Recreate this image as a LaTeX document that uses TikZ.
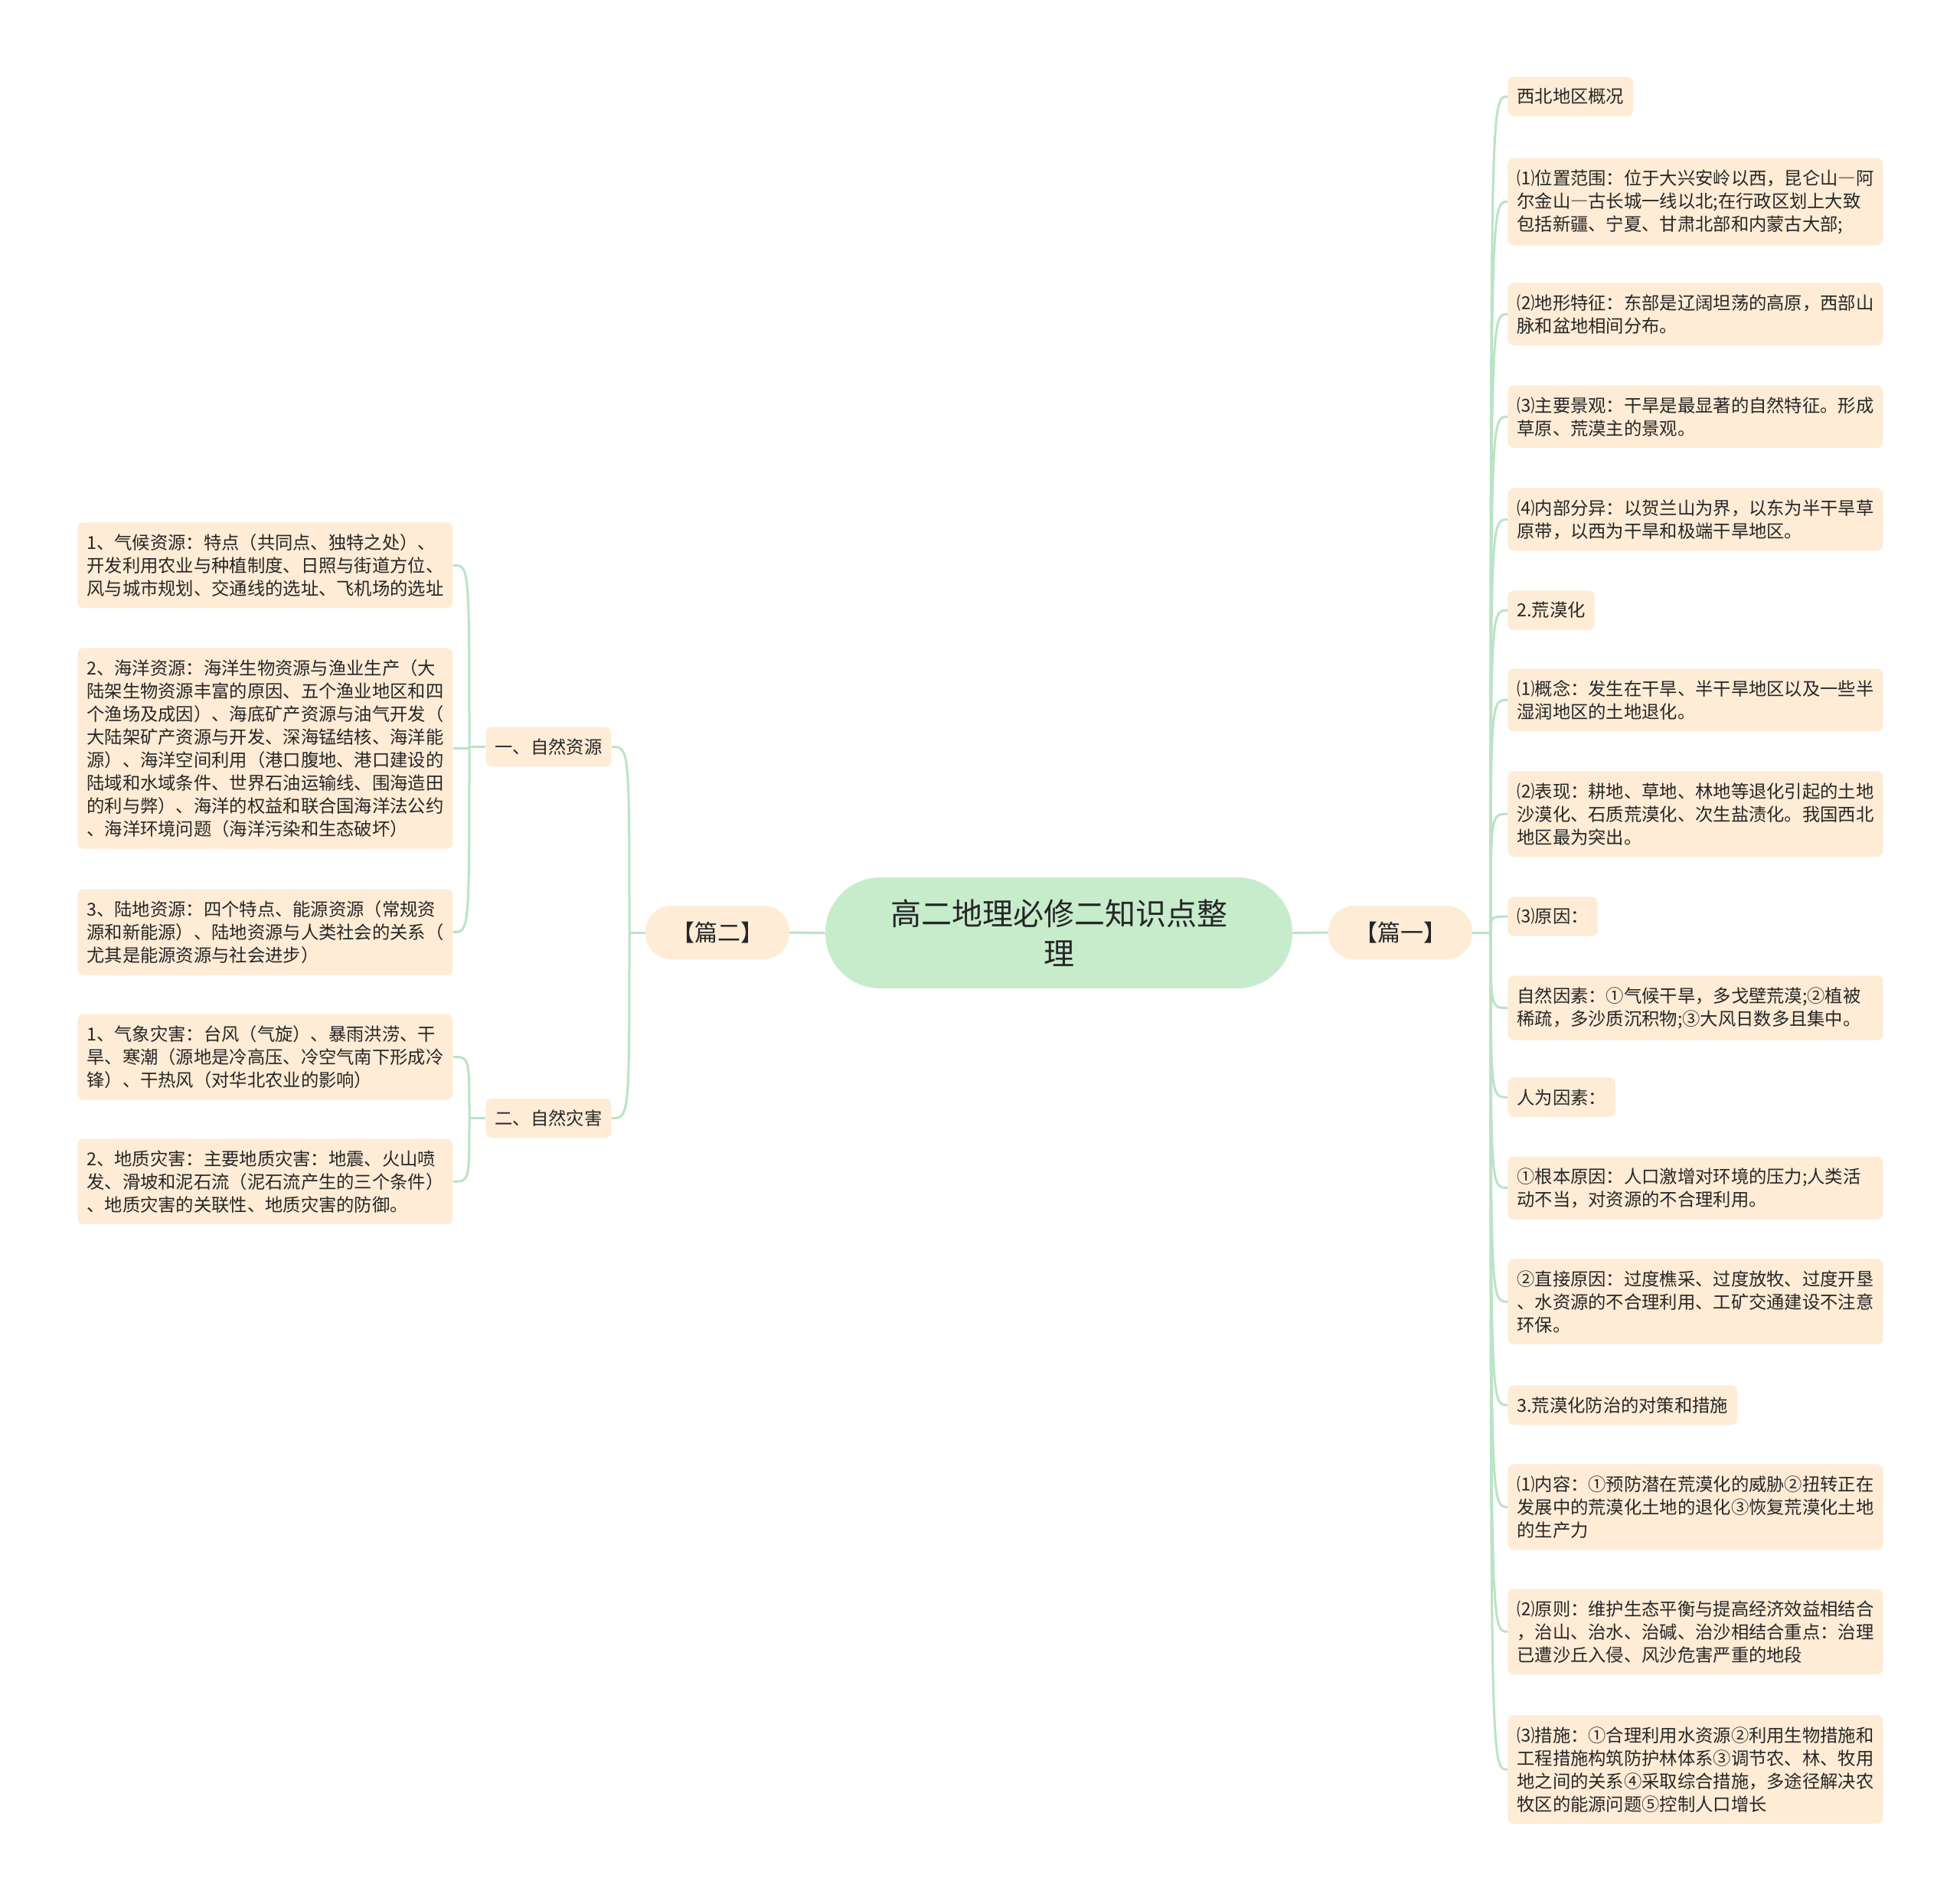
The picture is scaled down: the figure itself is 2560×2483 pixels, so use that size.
\documentclass[tikz,border=0pt]{standalone}
\usepackage{fontspec}
\setmainfont{Noto Sans CJK SC}
\definecolor{leafc}{RGB}{254,236,214}
\definecolor{rootc}{RGB}{199,236,204}
\definecolor{linec}{RGB}{186,228,196}
\definecolor{txtc}{RGB}{38,38,38}
\newcommand{\fwdash}{{\addfontfeature{RawFeature=+fwid}—}}
\tikzset{
  conn/.style={draw=linec, line width=1.5pt},
  box/.style={fill=leafc, rounded corners=4pt, inner xsep=6pt, inner ysep=7.5pt, text=txtc,
    font=\fontsize{11.65pt}{15pt}\selectfont, align=left},
  wide/.style={box, text width=233pt},
  pill/.style={fill=leafc, rounded corners=17pt, minimum width=94pt, minimum height=35pt,
    inner sep=0pt, text=txtc, font=\fontsize{15pt}{18pt}\selectfont},
  rootbox/.style={fill=rootc, rounded corners=36pt, minimum width=305pt, minimum height=72.5pt,
    inner sep=0pt, text=txtc, align=center, font=\fontsize{20pt}{26pt}\selectfont},
}
\begin{document}
\begin{tikzpicture}[x=0.5pt,y=-0.5pt]
\useasboundingbox (0,0) rectangle (2560,2483);
\fill[white] (0,0) rectangle (2560,2483);

% root and main branches
\node[rootbox] (root) at (1383,1218.5) {高二地理必修二知识点整\\理};
\node[pill] (p1) at (1829,1218) {【篇一】};
\node[pill] (p2) at (937,1218) {【篇二】};

% right side
\node[box, anchor=north west] (r1) at (1969,100) {西北地区概况};
\node[wide, anchor=north west] (r2) at (1969,206) {⑴位置范围：位于大兴安岭以西，昆仑山\fwdash 阿\\尔金山\fwdash 古长城一线以北;在行政区划上大致\\包括新疆、宁夏、甘肃北部和内蒙古大部;};
\node[wide, anchor=north west] (r3) at (1969,369) {⑵地形特征：东部是辽阔坦荡的高原，西部山\\脉和盆地相间分布。};
\node[wide, anchor=north west] (r4) at (1969,503) {⑶主要景观：干旱是最显著的自然特征。形成\\草原、荒漠主的景观。};
\node[wide, anchor=north west] (r5) at (1969,637) {⑷内部分异：以贺兰山为界，以东为半干旱草\\原带，以西为干旱和极端干旱地区。};
\node[box, anchor=north west] (r6) at (1969,771) {2.荒漠化};
\node[wide, anchor=north west] (r7) at (1969,873) {⑴概念：发生在干旱、半干旱地区以及一些半\\湿润地区的土地退化。};
\node[wide, anchor=north west] (r8) at (1969,1007) {⑵表现：耕地、草地、林地等退化引起的土地\\沙漠化、石质荒漠化、次生盐渍化。我国西北\\地区最为突出。};
\node[box, anchor=north west] (r9) at (1969,1171) {⑶原因：};
\node[wide, anchor=north west] (r10) at (1969,1274) {自然因素：①气候干旱，多戈壁荒漠;②植被\\稀疏，多沙质沉积物;③大风日数多且集中。};
\node[box, anchor=north west] (r11) at (1969,1407) {人为因素：};
\node[wide, anchor=north west] (r12) at (1969,1510) {①根本原因：人口激增对环境的压力;人类活\\动不当，对资源的不合理利用。};
\node[wide, anchor=north west] (r13) at (1969,1644) {②直接原因：过度樵采、过度放牧、过度开垦\\、水资源的不合理利用、工矿交通建设不注意\\环保。};
\node[box, anchor=north west] (r14) at (1969,1809) {3.荒漠化防治的对策和措施};
\node[wide, anchor=north west] (r15) at (1969,1912) {⑴内容：①预防潜在荒漠化的威胁②扭转正在\\发展中的荒漠化土地的退化③恢复荒漠化土地\\的生产力};
\node[wide, anchor=north west] (r16) at (1969,2075) {⑵原则：维护生态平衡与提高经济效益相结合\\，治山、治水、治碱、治沙相结合重点：治理\\已遭沙丘入侵、风沙危害严重的地段};
\node[wide, anchor=north west] (r17) at (1969,2240) {⑶措施：①合理利用水资源②利用生物措施和\\工程措施构筑防护林体系③调节农、林、牧用\\地之间的关系④采取综合措施，多途径解决农\\牧区的能源问题⑤控制人口增长};

% left side
\node[box] (n1) at (716.5,975.5) {一、自然资源};
\node[box] (n2) at (716.5,1460.5) {二、自然灾害};
\node[wide, anchor=north west] (l1) at (101,682) {1、气候资源：特点（共同点、独特之处）、\\开发利用农业与种植制度、日照与街道方位、\\风与城市规划、交通线的选址、飞机场的选址};
\node[wide, anchor=north west] (l2) at (101,846) {2、海洋资源：海洋生物资源与渔业生产（大\\陆架生物资源丰富的原因、五个渔业地区和四\\个渔场及成因）、海底矿产资源与油气开发（\\大陆架矿产资源与开发、深海锰结核、海洋能\\源）、海洋空间利用（港口腹地、港口建设的\\陆域和水域条件、世界石油运输线、围海造田\\的利与弊）、海洋的权益和联合国海洋法公约\\、海洋环境问题（海洋污染和生态破坏）};
\node[wide, anchor=north west] (l3) at (101,1161) {3、陆地资源：四个特点、能源资源（常规资\\源和新能源）、陆地资源与人类社会的关系（\\尤其是能源资源与社会进步）};
\node[wide, anchor=north west] (l4) at (101,1324) {1、气象灾害：台风（气旋）、暴雨洪涝、干\\旱、寒潮（源地是冷高压、冷空气南下形成冷\\锋）、干热风（对华北农业的影响）};
\node[wide, anchor=north west] (l5) at (101,1487) {2、地质灾害：主要地质灾害：地震、火山喷\\发、滑坡和泥石流（泥石流产生的三个条件）\\、地质灾害的关联性、地质灾害的防御。};

% connectors
\draw[conn] (root.east) -- (p1.west);
\draw[conn] (root.west) -- (p2.east);

\coordinate (rj) at (1947,1218);
\draw[conn] (p1.east) -- (rj);
\foreach \n in {r1,r2,r3,r4,r5,r6,r7,r8,r9,r10,r11,r12,r13,r14,r15,r16,r17}
  \draw[conn] (rj) .. controls (rj |- \n.west) .. (\n.west);

\coordinate (lj) at (822,1218);
\draw[conn] (p2.west) -- (lj);
\foreach \n in {n1,n2}
  \draw[conn] (lj) .. controls (lj |- \n.east) .. (\n.east);

\coordinate (aj) at (613,975.5);
\draw[conn] (n1.west) -- (aj);
\foreach \n in {l1,l2,l3}
  \draw[conn] (aj) .. controls (aj |- \n.east) .. (\n.east);

\coordinate (bj) at (613,1460.5);
\draw[conn] (n2.west) -- (bj);
\foreach \n in {l4,l5}
  \draw[conn] (bj) .. controls (bj |- \n.east) .. (\n.east);
\end{tikzpicture}
\end{document}
